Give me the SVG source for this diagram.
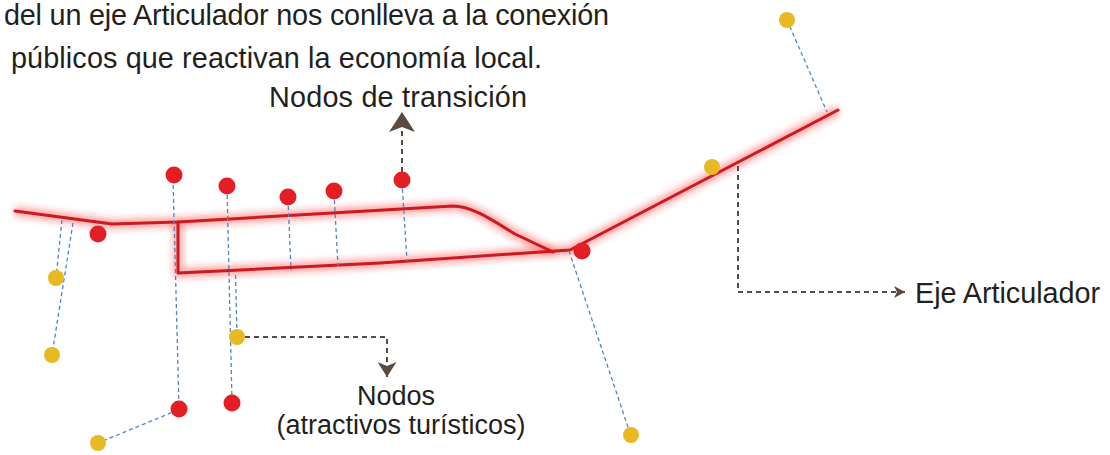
<svg xmlns="http://www.w3.org/2000/svg" width="1110" height="455" viewBox="0 0 1110 455">
<defs>
<style>
.txt{font-family:"Liberation Sans",Arial,sans-serif;font-size:28.8px;fill:#231f20}
.sm{font-size:27px}
.road{fill:none;stroke:#cc1a1f;stroke-width:3;stroke-linejoin:round;stroke-linecap:round}
.glow{fill:none;stroke:#ff2a2a;stroke-width:10;stroke-opacity:0.4;stroke-linejoin:round}
.blue{fill:none;stroke:#4f86bd;stroke-width:1.3;stroke-dasharray:4 3}
.brown{fill:none;stroke:#5a4a42;stroke-width:2;stroke-dasharray:5 4}
.red{fill:#e31e24}
.yel{fill:#e8b923}
</style>
<filter id="blur" x="-10%" y="-30%" width="120%" height="160%"><feGaussianBlur stdDeviation="3"/></filter>
<marker id="arrL" viewBox="0 -13 20 26" markerWidth="20" markerHeight="26" refX="20" refY="0" orient="auto" markerUnits="userSpaceOnUse"><path d="M0,-13 L20,0 L0,13 L5,0 Z" fill="#5a4a42"/></marker>
<marker id="arrM" viewBox="0 -9.5 15 19" markerWidth="15" markerHeight="19" refX="15" refY="0" orient="auto" markerUnits="userSpaceOnUse"><path d="M0,-9.5 L15,0 L0,9.5 L4,0 Z" fill="#5a4a42"/></marker>
<marker id="arrS" viewBox="0 -6 11 12" markerWidth="11" markerHeight="12" refX="11" refY="0" orient="auto" markerUnits="userSpaceOnUse"><path d="M0,-6 L11,0 L0,6 L3,0 Z" fill="#5a4a42"/></marker>
</defs>
<rect width="1110" height="455" fill="#ffffff"/>

<g id="texts">
<text class="txt" x="4" y="25" textLength="605">del un eje Articulador nos conlleva a la conexión</text>
<text class="txt" x="11" y="68" textLength="531">públicos que reactivan la economía local.</text>
</g>

<g id="eje-articulador-road">
<g filter="url(#blur)">
<path class="glow" d="M15,211 L112,224 L178,222 L453,206 C472,206 492,220 515,234 L553,252"/>
<path class="glow" d="M178,222 L178,273 L380,263 L570,250 L838,110"/>
</g>
<path class="road" d="M15,211 L112,224 L178,222 L453,206 C472,206 492,220 515,234 L553,252"/>
<path class="road" d="M178,222 L178,273 L380,263 L570,250 L838,110"/>
</g>

<g id="connectors">
<path class="blue" d="M62,220 L56,278"/>
<path class="blue" d="M73,223 L52,355"/>
<path class="blue" d="M173,178 L179,407"/>
<path class="blue" d="M227,188 L232,401"/>
<path class="blue" d="M237,335 L235.5,273"/>
<path class="blue" d="M288,199 L291,270"/>
<path class="blue" d="M334,193 L338,266"/>
<path class="blue" d="M402,182 L407,261"/>
<path class="blue" d="M178,410 L98,443"/>
<path class="blue" d="M569,251 L630,433"/>
<path class="blue" d="M787,20 L827,112"/>
</g>

<g id="nodos-transicion">
<circle class="red" cx="174" cy="175" r="8.5"/>
<circle class="red" cx="227" cy="186" r="8.5"/>
<circle class="red" cx="288" cy="197" r="8.5"/>
<circle class="red" cx="334" cy="191" r="8.5"/>
<circle class="red" cx="402" cy="180" r="8.5"/>
<circle class="red" cx="98" cy="234" r="8.5"/>
<circle class="red" cx="582" cy="251" r="8.5"/>
<circle class="red" cx="179" cy="409" r="8.5"/>
<circle class="red" cx="232" cy="403" r="8.5"/>
</g>

<g id="nodos-atractivos">
<circle class="yel" cx="56" cy="278" r="8"/>
<circle class="yel" cx="52" cy="355" r="8"/>
<circle class="yel" cx="237" cy="337" r="8"/>
<circle class="yel" cx="98" cy="443" r="8"/>
<circle class="yel" cx="787" cy="20" r="8"/>
<circle class="yel" cx="712" cy="167" r="8"/>
<circle class="yel" cx="631" cy="435" r="8"/>
</g>

<g id="label-connectors">
<path class="brown" d="M402,172 L402,112" marker-end="url(#arrL)"/>
<path class="brown" d="M245,337 L387,337 L387,377" marker-end="url(#arrM)"/>
<path class="brown" d="M738,166 L738,292 L905,292" marker-end="url(#arrS)"/>
</g>

<g id="label-transicion">
<text class="txt" x="269" y="107" textLength="258">Nodos de transición</text>
</g>
<g id="label-nodos">
<text class="txt sm" x="396" y="405" text-anchor="middle">Nodos</text>
<text class="txt sm" x="401" y="434" text-anchor="middle">(atractivos turísticos)</text>
</g>
<g id="label-eje">
<text class="txt" x="915" y="303" textLength="185">Eje Articulador</text>
</g>
</svg>
